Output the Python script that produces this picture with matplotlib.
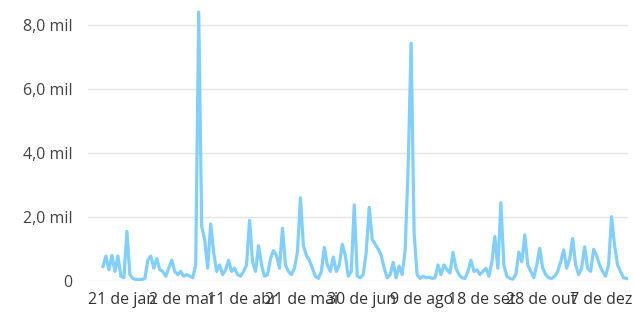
import matplotlib
matplotlib.use("Agg")
import matplotlib.pyplot as plt
import pandas as pd
import numpy as np

start_date = "2023-01-08"
step_days = 2
values = [
    450, 780, 350, 800, 300, 780, 150, 100, 1550, 200,
    80, 50, 50, 50, 80, 650, 780, 400, 700, 350,
    300, 150, 400, 650, 300, 200, 300, 150, 200, 150,
    100, 500, 8400, 1700, 1300, 400, 1780, 900, 300, 500,
    200, 350, 650, 300, 400, 200, 150, 300, 500, 1900,
    600, 300, 1100, 500, 150, 200, 700, 950, 800, 400,
    1650, 500, 300, 200, 400, 900, 2600, 1100, 800, 650,
    400, 150, 80, 300, 1050, 500, 300, 750, 300, 500,
    1150, 800, 150, 300, 2380, 150, 100, 200, 900, 2300,
    1300, 1150, 1000, 800, 400, 100, 200, 580, 100, 470,
    200, 950, 3500, 7430, 1500, 200, 80, 150, 100, 120,
    80, 100, 500, 200, 500, 350, 250, 900, 400, 200,
    100, 80, 300, 650, 300, 350, 200, 300, 400, 150,
    600, 1390, 400, 2450, 500, 150, 80, 60, 200, 900,
    600, 1440, 500, 300, 100, 500, 1020, 400, 200, 100,
    80, 150, 300, 600, 970, 400, 700, 1330, 500, 200,
    400, 1070, 400, 300, 990, 800, 500, 300, 150, 500,
    2010, 1120, 500, 300, 100, 80,
]

y_ticks = [0, 2000, 4000, 6000, 8000]
y_tick_labels = ["0", "2,0 mil", "4,0 mil", "6,0 mil", "8,0 mil"]
x_tick_dates = ["2023-01-21", "2023-03-02", "2023-04-11", "2023-05-21", "2023-06-30",
                "2023-08-09", "2023-09-18", "2023-10-28", "2023-12-07"]
x_tick_labels = ["21 de jan", "2 de mar", "11 de abr", "21 de mai", "30 de jun",
                 "9 de ago", "18 de set", "28 de out", "7 de dez"]

dates = pd.date_range(start_date, periods=len(values), freq=f"{step_days}D")

plt.rcParams['font.family'] = ['Open Sans', 'DejaVu Sans']

fig = plt.figure(figsize=(6.34, 3.14), dpi=100)
W, H = 634, 314
left, right, top, bottom = 88, 628, 5, 281
ax = fig.add_axes([left / W, 1 - bottom / H, (right - left) / W, (bottom - top) / H])

ax.plot(dates, values, color="#80CFFF", linewidth=2.3, solid_joinstyle="round", clip_on=False)

ax.set_xlim(pd.Timestamp(start_date) - pd.Timedelta(days=10), dates[-1] + pd.Timedelta(days=1))
ax.set_ylim(0, (bottom - top) / 32 * 1000)

ax.set_yticks(y_ticks)
ax.set_yticklabels(y_tick_labels)
ax.set_xticks(pd.to_datetime(x_tick_dates))
ax.set_xticklabels(x_tick_labels)

ax.grid(axis="y", color="#E4E4E4", linewidth=1.0)
ax.set_axisbelow(True)
for s in ax.spines.values():
    s.set_visible(False)
ax.tick_params(axis="y", length=0, pad=11, labelsize=11.5, labelcolor="#444444")
ax.tick_params(axis="x", length=0, pad=8, labelsize=11.5, labelcolor="#333333")

fig.savefig("out.png", dpi=100)
